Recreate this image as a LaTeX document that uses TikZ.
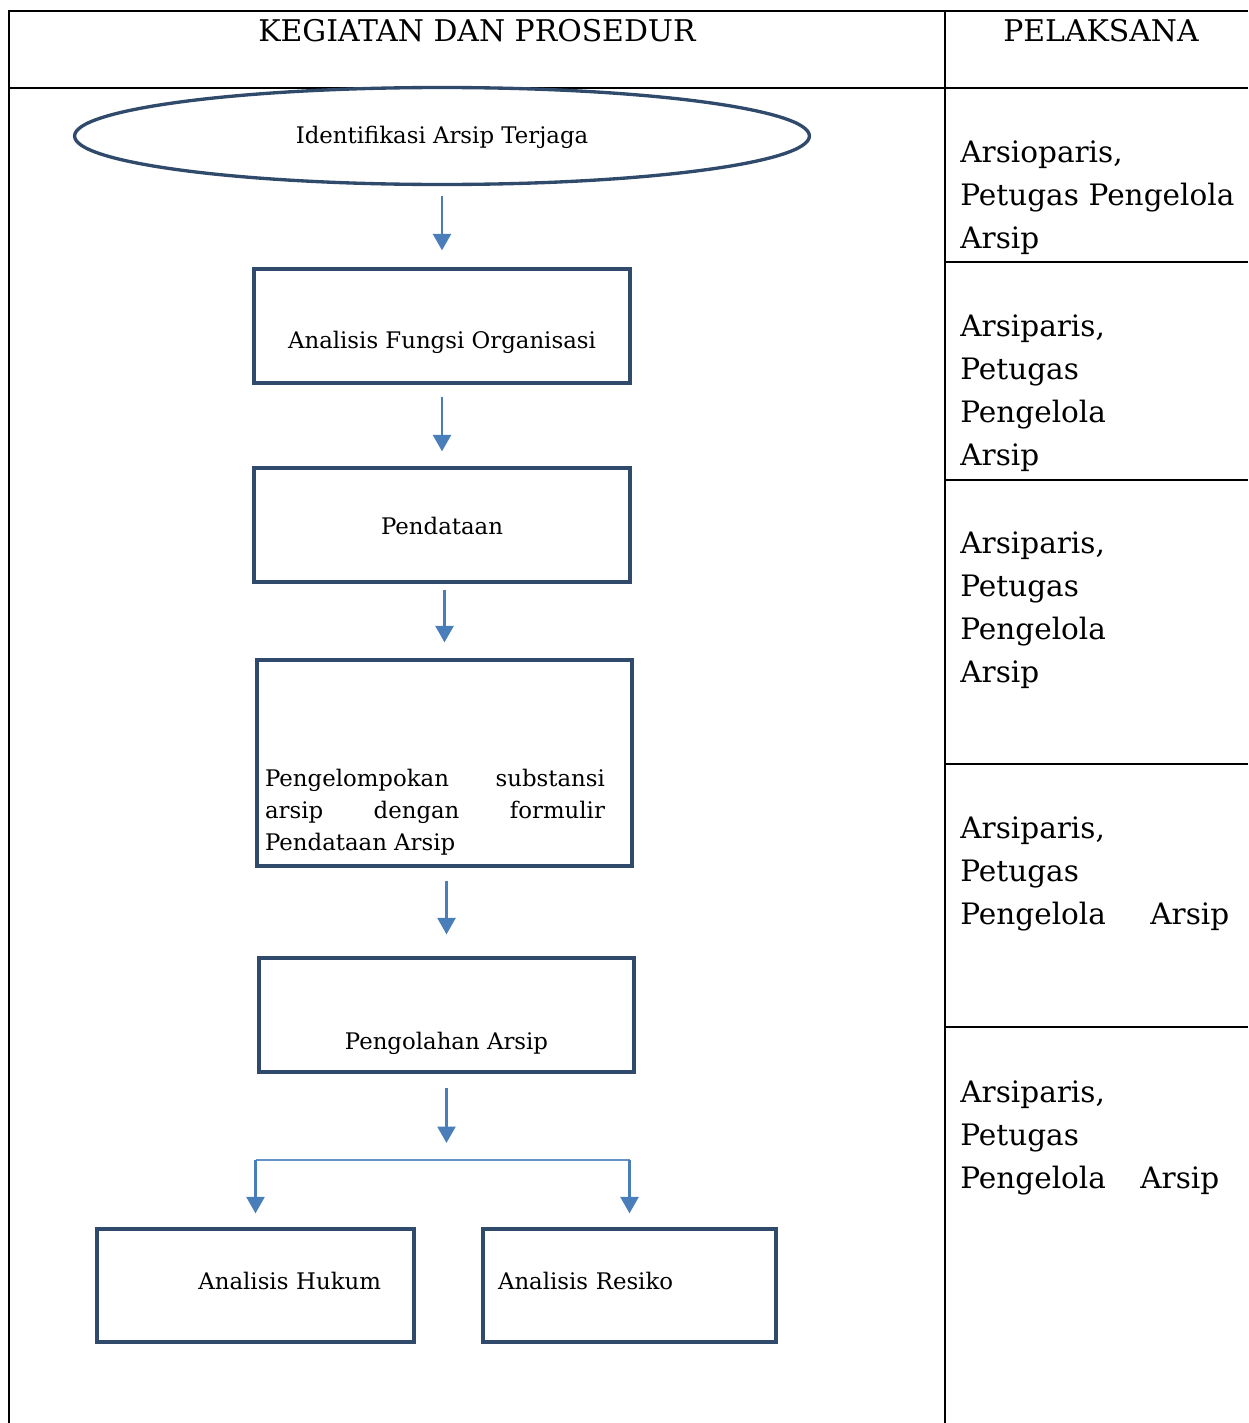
\documentclass[tikz,border=0pt]{standalone}
\usepackage{fontspec}
\setmainfont{DejaVu Serif}
\usetikzlibrary{arrows.meta,positioning,shapes.geometric}

\definecolor{boxline}{RGB}{47,74,107}
\definecolor{arrowblue}{RGB}{74,126,187}

\tikzset{
  tabline/.style={draw=black, line width=1.6pt},
  stepbox/.style={rectangle, draw=boxline, line width=1.9pt, inner sep=0pt, text depth=0pt,
    font=\fontsize{13}{18.4}\selectfont},
  startoval/.style={ellipse, draw=boxline, line width=1.9pt, inner sep=0pt, text depth=0pt,
    font=\fontsize{13}{18.4}\selectfont},
  flow/.style={draw=arrowblue, line width=1.5pt, -{Triangle[length=3.3mm,width=3.6mm]}},
  branch/.style={draw=arrowblue!85, line width=1.4pt},
  who/.style={anchor=base west, align=left, text width=5.8cm, inner sep=0pt, font=\fontsize{16.8}{24.5}\selectfont},
  head/.style={anchor=base, inner sep=0pt, font=\fontsize{17}{20}\selectfont},
}

\begin{document}
\begin{tikzpicture}[x=0.02cm, y=-0.02cm]
    \useasboundingbox (0,0) rectangle (1248,1423);

    % table
    \draw[tabline] (9,1423) -- (9,11) -- (1248,11);
    \draw[tabline] (9,88) -- (1248,88);
    \draw[tabline] (945,11) -- (945,1423);
    \foreach \y in {262,480,764,1027}
        \draw[tabline] (945,\y) -- (1248,\y);

    \node (h1) [head] at (477,41) {KEGIATAN DAN PROSEDUR};
    \node (h2) [head] at (1101,41) {PELAKSANA};

    % flow
    \node (ident) [startoval, minimum width=14.7cm, minimum height=1.94cm, text height=0.28cm] at (442,136) {Identifikasi Arsip Terjaga};
    \node (fungsi) [stepbox, minimum width=7.52cm, minimum height=2.28cm, text height=0.92cm] at (442,326) {Analisis Fungsi Organisasi};
    \node (data) [stepbox, minimum width=7.52cm, minimum height=2.28cm, text height=0.36cm] at (442,525) {Pendataan};
    \node (kelompok) [stepbox, minimum width=7.5cm, minimum height=4.12cm, text height=0.92cm] at (444.5,763)
        {\makebox[7.18cm][l]{\parbox[t]{6.8cm}{Pengelompokan substansi\linebreak arsip dengan formulir\linebreak Pendataan Arsip}}};
    \node (olah) [stepbox, minimum width=7.5cm, minimum height=2.28cm, text height=1.36cm] at (446.5,1015) {Pengolahan Arsip};
    \node (hukum) [stepbox, minimum width=6.34cm, minimum height=2.26cm, text height=0.14cm, text width=5.02cm, align=right] at (255.5,1285.5) {Analisis Hukum};
    \node (resiko) [stepbox, minimum width=5.86cm, minimum height=2.26cm, text height=0.14cm, text width=5.26cm, align=left] at (629.5,1285.5) {Analisis Resiko};
    \coordinate (split) at (446.5,1160);

    \draw[flow, shorten <=0.2cm, shorten >=0.34cm] (ident) -- (fungsi);
    \draw[flow, shorten <=0.24cm, shorten >=0.3cm] (fungsi) -- (data);
    \draw[flow, shorten <=0.12cm, shorten >=0.32cm] (kelompok.north |- data.south) -- (kelompok.north);
    \draw[flow, shorten <=0.26cm, shorten >=0.44cm] (olah.north |- kelompok.south) -- (olah.north);
    \draw[flow, shorten <=0.28cm, shorten >=0.34cm] (olah) -- (split);
    \draw[branch] (split -| hukum) -- (split -| resiko);
    \draw[flow, shorten >=0.28cm] (split -| hukum) -- (hukum);
    \draw[flow, shorten >=0.28cm] (split -| resiko) -- (resiko);

    % pelaksana
    \node (w1) [who] at (960,162) {Arsioparis,\\Petugas Pengelola\\Arsip};
    \node (w2) [who] at (960,336) {Arsiparis,\\Petugas\\Pengelola\\Arsip};
    \node (w3) [who] at (960,553) {Arsiparis,\\Petugas\\Pengelola\\Arsip};
    \node (w4) [who] at (960,838) {Arsiparis,\\Petugas\\\makebox[5.38cm]{Pengelola\hfill Arsip}};
    \node (w5) [who] at (960,1102) {Arsiparis,\\Petugas\\\makebox[5.18cm]{Pengelola\hfill Arsip}};
\end{tikzpicture}
\end{document}
